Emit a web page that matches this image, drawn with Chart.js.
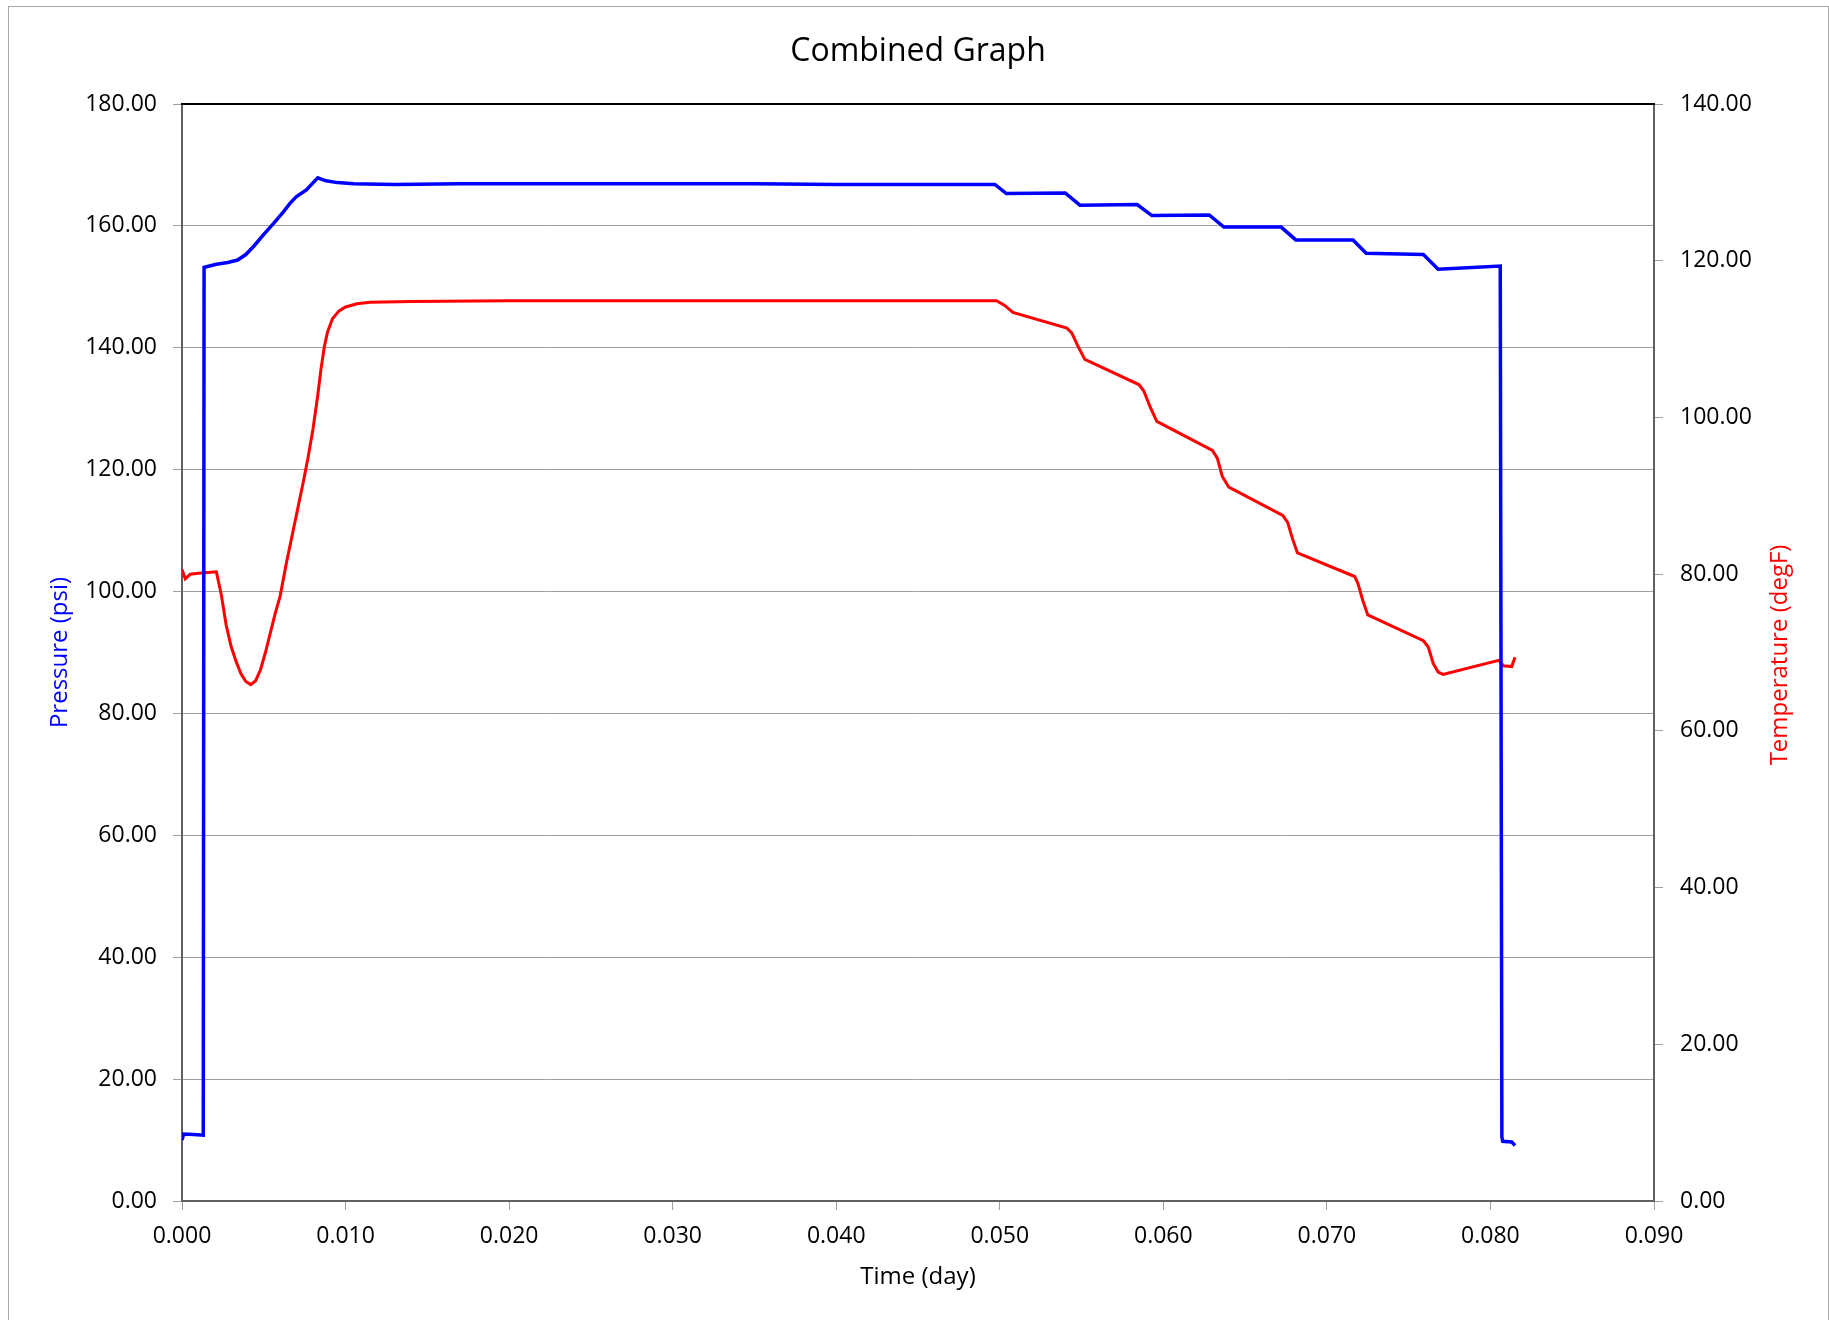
<!DOCTYPE html>
<html>
<head>
<meta charset="utf-8">
<script src="https://cdn.jsdelivr.net/npm/chart.js@4.4.1/dist/chart.umd.min.js"></script>
<style>
  html, body { margin: 0; padding: 0; background: #fff; overflow: hidden; }
  #wrap { position: relative; width: 1829px; height: 1320px; }
</style>
</head>
<body>
<div id="wrap"><canvas id="c"></canvas></div>
<script>
// ---------- data ----------
const pressureTime = [0.0000, 0.0001, 0.0007, 0.0013, 0.00135, 0.0015, 0.0021, 0.0028, 0.0034, 0.0039, 0.0044, 0.0050, 0.0056, 0.0062, 0.0066, 0.0070, 0.0076, 0.0083, 0.0088, 0.0095, 0.0105, 0.0130, 0.0170, 0.0210, 0.0250, 0.0300, 0.0350, 0.0400, 0.0450, 0.0497, 0.0504, 0.0540, 0.0549, 0.0584, 0.0593, 0.0628, 0.0637, 0.0672, 0.0681, 0.0716, 0.0724, 0.0759, 0.0768, 0.0806, 0.0807, 0.08075, 0.0813, 0.0815];
const pressure = [10.0, 11.0, 10.9, 10.8, 153.2, 153.3, 153.7, 154.0, 154.4, 155.3, 156.7, 158.6, 160.4, 162.3, 163.7, 164.8, 165.9, 167.9, 167.4, 167.1, 166.9, 166.8, 166.9, 166.9, 166.9, 166.9, 166.9, 166.8, 166.8, 166.8, 165.3, 165.4, 163.4, 163.5, 161.7, 161.8, 159.8, 159.8, 157.7, 157.7, 155.5, 155.3, 152.9, 153.4, 10.5, 9.8, 9.7, 9.1];

const temperatureTime = [0.0000, 0.0002, 0.0005, 0.0010, 0.0021, 0.0024, 0.0027, 0.0030, 0.0033, 0.0036, 0.0039, 0.0042, 0.0045, 0.0048, 0.0051, 0.0054, 0.0057, 0.0060, 0.0064, 0.0068, 0.0071, 0.0074, 0.0077, 0.0080, 0.0083, 0.0085, 0.0087, 0.0089, 0.0092, 0.0096, 0.0100, 0.0107, 0.0115, 0.0140, 0.0200, 0.0300, 0.0400, 0.0498, 0.0503, 0.0508, 0.0541, 0.0544, 0.0548, 0.0552, 0.0585, 0.0588, 0.0592, 0.0596, 0.0630, 0.0633, 0.0636, 0.0640, 0.0673, 0.0676, 0.0679, 0.0682, 0.0717, 0.0719, 0.0722, 0.0725, 0.0759, 0.0762, 0.0765, 0.0768, 0.0771, 0.0805, 0.0808, 0.0813, 0.0815];
const temperature = [80.6, 79.4, 80.0, 80.1, 80.3, 77.4, 73.5, 70.8, 68.9, 67.3, 66.3, 65.9, 66.4, 67.8, 70.0, 72.5, 75.0, 77.2, 81.6, 85.6, 88.6, 91.6, 94.8, 98.4, 102.8, 106.2, 109.0, 110.9, 112.6, 113.6, 114.1, 114.5, 114.7, 114.8, 114.9, 114.9, 114.9, 114.9, 114.3, 113.4, 111.4, 110.8, 109.0, 107.4, 104.2, 103.4, 101.3, 99.5, 95.8, 94.8, 92.5, 91.1, 87.5, 86.6, 84.5, 82.7, 79.7, 78.8, 76.6, 74.8, 71.5, 70.7, 68.6, 67.5, 67.2, 69.0, 68.3, 68.2, 69.4];

const xTickLabels = ['0.000', '0.010', '0.020', '0.030', '0.040', '0.050', '0.060', '0.070', '0.080', '0.090'];
const pressureTickLabels = ['0.00', '20.00', '40.00', '60.00', '80.00', '100.00', '120.00', '140.00', '160.00', '180.00'];
const temperatureTickLabels = ['0.00', '20.00', '40.00', '60.00', '80.00', '100.00', '120.00', '140.00'];

const FONT = "'Open Sans', 'Noto Sans', sans-serif";
Chart.defaults.font.family = FONT;
Chart.defaults.color = '#000';

const pressurePoints = pressureTime.map((t, i) => ({x: t, y: pressure[i]}));
const temperaturePoints = temperatureTime.map((t, i) => ({x: t, y: temperature[i]}));

const decor = {
  id: 'decor',
  beforeDraw(chart) {
    const ctx = chart.ctx;
    ctx.save();
    ctx.fillStyle = '#fff';
    ctx.fillRect(0, 0, chart.width, chart.height);
    ctx.strokeStyle = '#a8a8a8';
    ctx.lineWidth = 1;
    ctx.strokeRect(8.5, 6.5, 1820, 1400);
    ctx.restore();
  },
  afterDatasetsDraw(chart) {
    const {ctx, chartArea} = chart;
    ctx.save();
    ctx.strokeStyle = '#000';
    ctx.lineWidth = 2;
    ctx.beginPath();
    ctx.moveTo(chartArea.left - 1, chartArea.top);
    ctx.lineTo(chartArea.right + 1, chartArea.top);
    ctx.stroke();
    // right axis title (reads bottom to top)
    ctx.translate(1780, 655);
    ctx.rotate(-Math.PI / 2);
    ctx.fillStyle = '#ff0000';
    ctx.font = '24px ' + FONT;
    ctx.textAlign = 'center';
    ctx.textBaseline = 'middle';
    ctx.fillText('Temperature (degF)', 0, 0);
    ctx.restore();
  }
};

new Chart(document.getElementById('c'), {
  type: 'scatter',
  data: {
    datasets: [
      {
        label: 'Pressure',
        data: pressurePoints,
        yAxisID: 'yP',
        showLine: true,
        borderColor: '#0000ff',
        backgroundColor: '#0000ff',
        borderWidth: 3.5,
        pointRadius: 0,
        tension: 0
      },
      {
        label: 'Temperature',
        data: temperaturePoints,
        yAxisID: 'yT',
        showLine: true,
        borderColor: '#ff0000',
        backgroundColor: '#ff0000',
        borderWidth: 3,
        pointRadius: 0,
        tension: 0
      }
    ]
  },
  options: {
    responsive: true,
    maintainAspectRatio: false,
    animation: false,
    layout: { padding: 0 },
    plugins: {
      legend: { display: false },
      tooltip: { enabled: false },
      title: {
        display: true,
        fullSize: false,
        text: 'Combined Graph',
        color: '#000',
        font: { size: 32, weight: 'normal', lineHeight: 1.2 },
        padding: { top: 32.5, bottom: 33.1 }
      }
    },
    scales: {
      x: {
        type: 'linear',
        position: 'bottom',
        min: 0,
        max: 0.09,
        afterFit(s) { s.height = 119; },
        ticks: {
          stepSize: 0.01,
          autoSkip: false,
          maxRotation: 0,
          padding: 13,
          font: { size: 23 },
          color: '#000',
          callback: (v, i) => xTickLabels[i]
        },
        grid: { display: true, drawOnChartArea: false, tickLength: 9, color: '#a0a0a0', lineWidth: 1 },
        border: { display: true, color: '#606060', width: 2 },
        title: {
          display: true,
          text: 'Time (day)',
          color: '#000',
          font: { size: 24, lineHeight: 1.2 },
          padding: { top: 0, bottom: 28.6 }
        }
      },
      yP: {
        type: 'linear',
        position: 'left',
        min: 0,
        max: 180,
        afterFit(s) { s.width = 182; },
        ticks: {
          stepSize: 20,
          autoSkip: false,
          padding: 16,
          font: { size: 23 },
          color: '#000',
          callback: (v, i) => pressureTickLabels[i]
        },
        grid: { display: true, drawOnChartArea: true, tickLength: 9, color: '#a0a0a0', lineWidth: 1 },
        border: { display: true, color: '#606060', width: 2 },
        title: {
          display: true,
          text: 'Pressure (psi)',
          color: '#0000ff',
          font: { size: 24, lineHeight: 1.2 },
          padding: { top: 45.6, bottom: 0 }
        }
      },
      yT: {
        type: 'linear',
        position: 'right',
        min: 0,
        max: 140,
        afterFit(s) { s.width = 175; },
        ticks: {
          stepSize: 20,
          autoSkip: false,
          padding: 17,
          font: { size: 23 },
          color: '#000',
          callback: (v, i) => temperatureTickLabels[i]
        },
        grid: { display: true, drawOnChartArea: false, tickLength: 9, color: '#a0a0a0', lineWidth: 1 },
        border: { display: true, color: '#606060', width: 2 },
        title: { display: false }
      }
    }
  },
  plugins: [decor]
});
</script>
</body>
</html>
